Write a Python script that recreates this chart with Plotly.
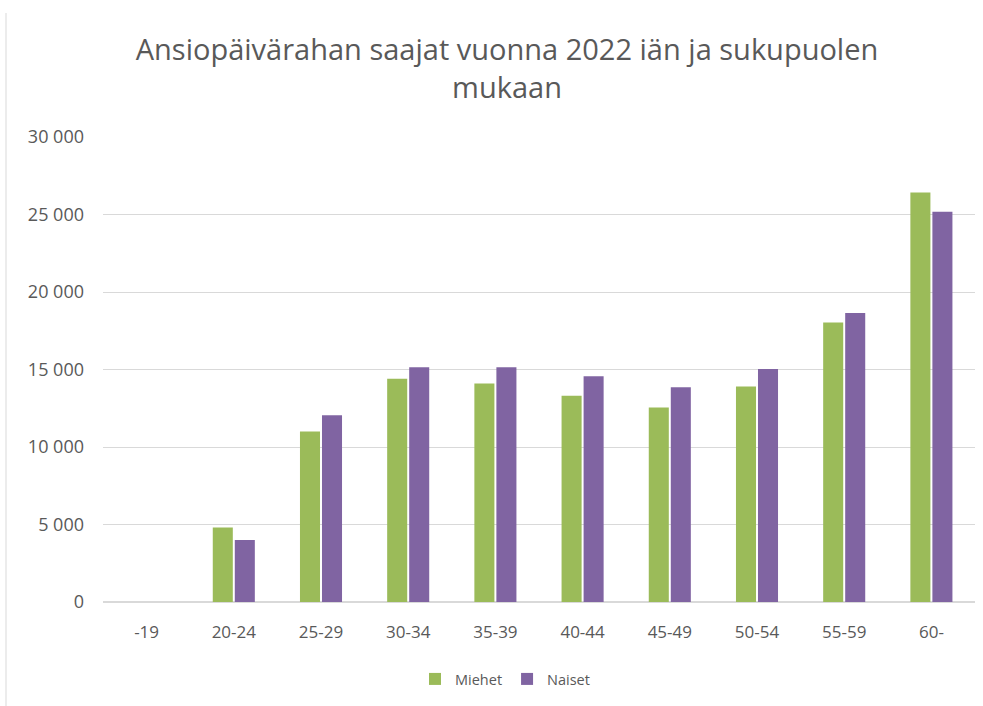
import plotly.graph_objects as go

categories = ["-19", "20-24", "25-29", "30-34", "35-39", "40-44", "45-49", "50-54", "55-59", "60-"]
miehet = [0, 4800, 11000, 14400, 14100, 13300, 12550, 13900, 18030, 26420]
naiset = [0, 4000, 12050, 15150, 15150, 14570, 13860, 15030, 18650, 25180]

title_text = "Ansiopäivärahan saajat vuonna 2022 iän ja sukupuolen<br>mukaan"
font_family = "Open Sans, Liberation Sans, sans-serif"
text_color = "#595959"

fig = go.Figure()
fig.add_trace(go.Bar(name="Miehet", x=categories, y=miehet,
                     marker=dict(color="#9BBB59", line=dict(width=0))))
fig.add_trace(go.Bar(name="Naiset", x=categories, y=naiset,
                     marker=dict(color="#8064A2", line=dict(width=0))))

W, H = 983, 706
L, R, T, B = 103, 8, 137, 104
pw, ph = W - L - R, H - T - B

fig.update_layout(
    width=W, height=H,
    paper_bgcolor="white", plot_bgcolor="white",
    margin=dict(l=L, r=R, t=T, b=B, autoexpand=False),
    separators=", ",
    barmode="group", bargap=0.495, bargroupgap=0.09,
    font=dict(family=font_family, color=text_color, size=14),
    title=dict(text=title_text, x=507/W, xanchor="center", y=1 - 60/H, yanchor="top",
               font=dict(size=29, color=text_color, family=font_family)),
    legend=dict(orientation="h", x=(505 - L)/pw, xanchor="center",
                y=(602 - 679)/ph, yanchor="middle",
                font=dict(size=14.5, color=text_color), itemwidth=30, traceorder="normal"),
    showlegend=True,
)
fig.update_yaxes(range=[0, 30000], dtick=5000, tickformat=",d", gridcolor="#d9d9d9",
                 gridwidth=1, zeroline=True, zerolinecolor="#d9d9d9", showline=False,
                 ticks="", ticklabelstandoff=18, tickfont=dict(size=18, color=text_color))
fig.update_xaxes(showgrid=False, showline=True, linecolor="#d9d9d9", ticks="",
                 tickfont=dict(size=17, color=text_color), ticklabelstandoff=15)

fig.add_shape(type="line", xref="paper", yref="paper",
              x0=(6 - L)/pw, x1=(6 - L)/pw, y0=(602 - 706)/ph, y1=(602 - 13)/ph,
              line=dict(color="#d9d9d9", width=1))

fig.write_html("out.html", config={"displayModeBar": False},
               post_script="document.body.style.margin='0';document.body.style.overflow='hidden';")
